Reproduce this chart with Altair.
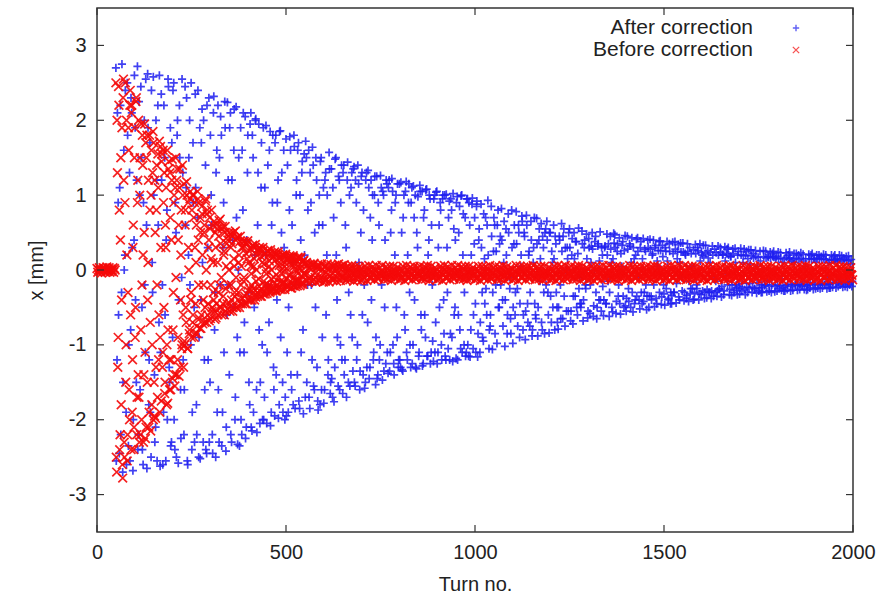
import altair as alt
import pandas as pd

# ---------------- data ----------------
# After correction, read in two interleaved sets of turns
blue_turns_a = list(range(50, 2000, 3))
blue_x_a = [
    2.7, -1.2, 0.9, -2.45, 2.2, -0.3, -2.7, 1.6, 0.2, -1.9,
    2.5, -2.35, 1.3, -0.8, 2.1, -2.68, 0.4, 1.9, -1.5, 2.72,
    -2.2, 1.0, 2.45, -0.5, -2.6, 2.0, -1.1, 0.6, 2.62, -1.8,
    1.7, -2.5, 0.1, 2.58, -1.4, -2.1, 1.2, 2.2, -0.7, -2.62,
    2.35, -0.2, -1.9, 1.5, -2.55, 0.8, 2.55, -1.3, 1.9, -2.3,
    -0.9, 2.5, -2.4, 0.5, 1.8, -2.58, 2.2, -1.6, -0.1, 1.3,
    -2.2, 2.45, 1.1, -2.55, 0.2, 2.0, -1.0, -2.4, 1.7, -0.5,
    2.35, -1.8, 0.7, -2.5, 1.9, -0.4, 2.15, -2.3, -1.2, 1.4,
    -2.45, 0.3, 2.3, -1.5, 1.0, -2.2, 2.1, -0.8, -2.5, 1.6,
    2.2, -2.3, -0.2, 1.8, -1.9, 0.9, 2.25, -2.42, -0.6, 1.2,
    -1.4, 2.1, -2.3, 0.4, 1.6, -2.0, 2.18, -0.9, 0.0, -2.35,
    1.9, -2.2, 0.8, -1.1, 2.05, -2.1, 1.3, -0.3, -1.8, 2.1,
    -2.15, 1.5, -0.5, 2.0, -1.6, 0.6, 1.95, -2.05, 1.1, -1.0,
    1.9, -1.7, 0.2, -2.05, 1.4, -0.7, 1.85, -1.9, 0.9, -1.3,
    -1.95, 1.8, -0.4, 1.2, -1.8, 1.86, 0.5, -1.5, 1.6, -2.0,
    1.75, -1.1, -1.9, 0.8, 1.6, -1.6, 0.1, 1.8, -1.85, 1.0,
    -1.4, 1.7, -1.85, 0.4, 1.3, -0.8, 1.55, -1.7, 1.5, -0.2,
    1.6, -1.85, 0.9, -1.2, 1.4, -1.6, -0.5, 1.2, -1.75, 0.6,
    -1.8, 1.5, -0.9, 1.1, -1.6, 1.3, 0.2, -1.4, 1.57, -1.65,
    1.35, -1.7, 0.7, -1.3, 1.5, -0.4, -1.55, 1.2, -1.0, 1.4,
    -1.65, 1.4, -1.2, 0.3, 1.2, -1.5, 1.0, -0.6, 1.3, -1.35,
    1.38, -1.55, 0.9, -1.0, 1.15, -1.6, 0.5, 1.3, -1.4, -0.2,
    -1.5, 1.3, -0.7, 1.1, -1.3, 1.2, 0.4, -1.2, 1.0, -1.53,
    1.25, -1.4, 0.6, -1.0, 1.1, -1.47, 1.0, -0.5, -1.25, 1.15,
    -1.38, 1.2, -1.1, 0.8, 1.05, -1.25, 0.2, 1.0, -0.9, -1.3,
    1.15, -1.3, 0.5, -1.35, 1.0, -0.8, 1.18, -1.2, 0.9, -0.3,
    -1.3, 1.1, -1.0, 0.7, 1.0, -1.32, 0.3, -1.15, 1.13, -0.6,
    1.05, -1.25, 0.8, -0.9, 1.08, -1.15, 0.4, 0.95, -1.1, -0.2,
    -1.22, 1.0, -0.7, 1.05, -1.1, 0.6, 0.9, -1.0, 0.95, -0.4,
    1.0, -1.2, 0.3, -1.05, 0.92, -0.85, 0.8, -1.22, 0.55, -0.5,
    -1.18, 0.98, -0.6, 0.85, -1.05, 1.0, 0.2, -1.0, 0.7, -1.1,
    0.95, -1.15, 0.6, -0.8, 0.88, -1.05, 0.35, -0.45, 0.85, -1.16,
    0.4, -1.1, 0.88, -0.3, -0.95, 0.15, 0.7, -0.6, 0.93, -1.05,
    -0.75, 0.85, -1.06, 0.25, 0.6, -0.2, -0.98, 0.8, -0.5, 0.45,
    0.82, -0.4, 0.1, -1.02, 0.55, -0.85, 0.75, -0.1, -0.65, 0.8,
    -0.98, 0.35, -0.6, 0.78, -0.25, 0.6, -0.9, 0.05, 0.72, -0.8,
    0.5, -0.93, 0.73, -0.45, 0.2, -0.75, 0.65, -0.88, 0.1, 0.7,
    -0.6, 0.69, -0.88, 0.4, -0.15, 0.62, -0.8, 0.3, -0.85, 0.55,
    0.65, -0.3, -0.84, 0.5, -0.7, 0.1, 0.6, -0.8, 0.35, -0.5,
    -0.79, 0.45, -0.2, 0.62, -0.65, 0.55, -0.75, 0.0, 0.3, -0.55,
    0.55, -0.68, 0.2, -0.72, 0.5, -0.35, 0.38, -0.6, 0.56, -0.1,
    -0.5, 0.52, -0.68, 0.3, -0.2, 0.48, -0.64, 0.42, -0.58, 0.1,
    0.5, -0.62, 0.0, 0.45, -0.65, 0.32, -0.4, 0.51, -0.55, 0.2,
    -0.61, 0.3, -0.45, 0.48, -0.15, -0.62, 0.45, 0.1, -0.56, 0.49,
    0.47, -0.58, 0.25, -0.35, 0.43, -0.59, 0.05, 0.38, -0.5, 0.46,
    -0.55, 0.45, -0.25, 0.35, -0.5, 0.43, -0.56, 0.15, -0.4, 0.41,
    0.43, -0.1, -0.52, 0.38, -0.45, 0.42, -0.3, 0.25, -0.53, 0.4,
    -0.5, 0.41, -0.35, 0.2, 0.4, -0.49, 0.33, -0.45, 0.05, 0.38,
    0.39, -0.46, 0.33, -0.2, -0.47, 0.25, 0.38, -0.4, 0.35, -0.45,
    -0.45, 0.37, -0.3, 0.38, -0.44, 0.15, 0.34, -0.4, 0.36, -0.1,
    0.36, -0.41, 0.22, -0.38, 0.35, -0.42, 0.3, -0.25, 0.05, -0.4,
    -0.39, 0.34, -0.2, 0.3, -0.4, 0.35, -0.33, 0.2, 0.33, -0.38,
    0.33, -0.37, 0.26, -0.3, 0.1, -0.38, 0.32, -0.35, 0.28, -0.15,
    -0.35, 0.32, -0.25, 0.3, -0.36, 0.2, -0.33, 0.31, -0.05, 0.28,
    0.3, -0.33, 0.18, -0.34, 0.28, -0.3, 0.29, -0.2, -0.33, 0.25,
    -0.32, 0.29, -0.28, 0.1, 0.28, -0.33, 0.25, -0.3, 0.27, -0.18,
    0.27, -0.3, 0.22, -0.25, 0.26, -0.31, 0.05, -0.28, 0.25, -0.3,
    -0.3, 0.26, -0.2, 0.25, -0.29, 0.18, -0.28, 0.24, -0.3, 0.22,
    0.25, -0.29, 0.15, -0.28, 0.24, -0.25, 0.23, -0.27, 0.1, -0.28,
    -0.28, 0.23, -0.26, 0.2, 0.24, -0.28, 0.12, -0.27, 0.22, -0.2,
    0.22, -0.27, 0.2, -0.26, 0.23, -0.22, 0.21, -0.26, 0.05, -0.27,
    -0.26, 0.21, -0.24, 0.2, 0.22, -0.26, 0.15, -0.25, 0.2, -0.24,
    0.2, -0.25, 0.18, -0.24, 0.21, -0.2, 0.2, -0.25, 0.1, -0.24,
    -0.24, 0.2, -0.23, 0.18, 0.2, -0.24, 0.15, -0.22, 0.2, -0.2,
    0.19, -0.23, 0.16, -0.22, 0.18, -0.23, 0.19, -0.2, 0.08, -0.22,
]

blue_turns_b = list(range(51, 2000, 3))
blue_x_b = [
    -2.55, 2.1, -0.6, 1.1, -2.2, 2.75, -1.5, 0.0, 2.4, -2.6,
    1.8, -1.0, -2.55, 2.3, 0.3, -2.0, 2.6, -0.4, 1.2, -2.4,
    2.25, -1.6, 1.5, -2.4, 0.9, -0.2, 2.55, -2.65, 1.9, -1.2,
    -1.9, 2.4, -0.3, 1.0, -2.3, 2.0, -2.55, 0.6, 2.6, -1.1,
    1.2, -2.6, 2.2, -0.6, 0.4, -2.0, 2.45, -1.5, -2.35, 1.7,
    2.4, -2.0, 0.9, -2.5, 2.0, -0.4, 1.5, -2.25, 2.55, -1.2,
    -1.6, 0.6, 2.3, -2.6, 1.5, -0.2, 2.5, -1.9, 0.9, -2.3,
    1.1, -2.2, 2.4, -0.9, -2.52, 1.7, 0.1, 2.0, -1.6, -2.4,
    2.2, -1.2, -2.3, 1.8, 0.6, -2.45, 2.32, -0.3, 1.3, -1.9,
    -1.6, 1.5, 2.05, -2.35, 0.3, -1.1, 1.9, -2.1, 2.24, -0.2,
    1.9, -2.2, 1.2, -0.5, 2.15, -1.7, 0.7, -2.33, 1.5, -1.1,
    -2.0, 1.6, 2.1, -0.7, -2.25, 0.4, 1.8, -1.5, 1.95, -2.1,
    1.8, -1.9, 0.2, 2.02, -2.17, 1.3, -0.8, -1.5, 1.7, -2.0,
    -2.0, 1.1, 1.93, -1.1, -0.2, 1.6, -2.08, 0.6, 1.8, -1.6,
    1.7, -1.4, 0.9, -1.98, 1.85, -0.9, 1.3, -1.9, 0.3, -1.7,
    -1.95, 1.4, -0.5, 1.78, -1.4, 0.6, -1.8, 1.65, -0.2, 1.2,
    1.6, -1.75, 1.0, -1.1, 1.45, -1.92, 0.2, 1.72, -1.5, 0.8,
    -1.7, 1.3, -0.2, 1.64, -1.55, 0.5, 1.5, -1.3, -1.87, 1.0,
    1.45, -1.6, 0.6, -1.78, 1.2, -0.6, 1.0, -1.2, 1.35, -1.5,
    -1.45, 1.1, -1.76, 1.48, 0.2, -0.9, 1.25, -1.6, 0.9, -1.2,
    1.3, -1.4, 0.6, -1.7, 1.44, -0.3, -1.55, 1.1, -0.9, 1.35,
    -1.5, 1.2, -1.2, 1.4, 0.1, -1.35, 1.25, -0.6, 0.8, -1.58,
    1.2, -1.3, 1.33, -1.45, 0.7, -0.4, 1.0, -1.1, 1.25, -0.9,
    -1.45, 0.9, -1.2, 1.26, -0.2, 1.05, -1.35, 0.4, 1.2, -1.1,
    1.1, -1.35, 0.5, 1.22, -1.0, -1.4, 0.9, -0.5, 1.15, -1.2,
    -1.2, 1.17, -1.33, 0.7, -0.6, 1.05, -1.1, 0.2, 1.15, -1.0,
    0.9, -1.25, 1.12, -0.4, -1.3, 0.5, 0.98, -1.1, 1.05, -0.8,
    -1.28, 0.7, -0.6, 1.07, -1.15, 0.2, 1.0, -1.25, 0.6, -0.95,
    0.95, -1.1, 1.04, -1.25, 0.3, -0.5, 0.8, -1.2, 1.0, -0.85,
    -1.15, 1.01, -0.3, 0.7, -1.2, 0.95, -0.9, 1.02, -0.6, 0.4,
    0.9, -1.2, 0.5, -0.8, 0.99, -1.1, 0.75, -0.3, -1.15, 0.95,
    -1.0, 0.9, -1.16, 0.2, 0.96, -0.6, 0.7, -1.1, 0.92, -0.85,
    0.55, -0.7, 0.3, -0.9, 0.75, -0.45, -0.25, 0.6, 0.2, -0.8,
    -0.6, 0.45, -0.3, 0.7, -0.85, 0.25, 0.6, -0.5, 0.35, -0.2,
    0.4, -0.75, 0.65, -0.4, 0.2, -0.6, 0.5, -0.25, -0.85, 0.3,
    -0.5, 0.6, -0.3, 0.35, -0.75, 0.5, -0.45, 0.2, 0.65, -0.6,
    0.45, -0.55, 0.6, -0.7, 0.25, -0.3, 0.4, -0.8, 0.3, -0.45,
    -0.65, 0.35, -0.5, 0.55, 0.15, -0.7, 0.45, -0.3, 0.5, -0.2,
    0.4, -0.6, 0.5, -0.35, 0.25, -0.5, 0.15, 0.45, -0.3, -0.7,
    -0.5, 0.4, -0.65, 0.25, 0.45, -0.35, 0.3, -0.55, 0.15, 0.5,
    0.3, -0.55, 0.42, -0.35, 0.15, 0.38, -0.5, 0.22, -0.25, -0.45,
    -0.45, 0.35, -0.4, 0.4, -0.25, 0.15, -0.55, 0.3, -0.2, 0.32,
    0.28, -0.48, 0.38, -0.3, -0.5, 0.35, 0.12, -0.4, 0.3, -0.22,
    -0.4, 0.32, -0.45, 0.2, 0.35, -0.3, 0.28, -0.5, 0.15, 0.36,
    0.3, -0.42, 0.35, -0.2, -0.45, 0.22, 0.33, -0.35, 0.26, -0.48,
    -0.38, 0.28, -0.42, 0.32, 0.1, -0.3, 0.3, -0.45, 0.2, -0.35,
    0.25, -0.4, 0.3, -0.3, 0.15, -0.42, 0.28, -0.2, -0.35, 0.3,
    -0.35, 0.28, -0.4, 0.22, -0.2, 0.3, -0.38, 0.12, 0.26, -0.3,
    0.26, -0.36, 0.18, -0.32, 0.3, -0.25, 0.12, -0.38, 0.25, -0.3,
    -0.34, 0.22, -0.3, 0.28, -0.18, 0.25, -0.36, 0.1, 0.24, -0.28,
    0.24, -0.3, 0.2, -0.34, 0.25, -0.15, -0.32, 0.22, -0.25, 0.27,
    -0.3, 0.22, -0.25, 0.26, -0.32, 0.12, 0.24, -0.28, 0.18, -0.3,
    0.22, -0.26, 0.16, -0.3, 0.24, -0.28, 0.2, -0.12, -0.3, 0.23,
    -0.28, 0.2, -0.26, 0.24, -0.22, 0.21, -0.28, 0.12, 0.22, -0.2,
    0.2, -0.26, 0.18, -0.2, 0.22, -0.27, 0.1, -0.24, 0.2, -0.22,
    -0.25, 0.2, -0.18, 0.19, -0.26, 0.2, -0.23, 0.15, -0.24, 0.08,
    0.19, -0.23, 0.16, -0.25, 0.18, -0.17, 0.17, -0.24, 0.12, -0.2,
    -0.23, 0.18, -0.21, 0.16, -0.14, 0.17, -0.22, 0.16, -0.2, 0.18,
    0.17, -0.22, 0.18, -0.2, 0.15, -0.21, 0.16, -0.12, -0.23, 0.15,
    -0.21, 0.17, -0.2, 0.14, 0.16, -0.19, -0.22, 0.15, 0.1, -0.2,
    0.16, -0.2, 0.14, -0.19, 0.15, -0.2, 0.12, -0.16, 0.15, -0.21,
    -0.19, 0.15, -0.2, 0.14, -0.17, 0.15, -0.19, 0.1, 0.16, -0.2,
    0.15, -0.19, 0.14, -0.18, 0.15, -0.19, 0.14, -0.12, -0.19, 0.13,
    -0.18, 0.14, -0.17, 0.13, 0.14, -0.18, 0.11, -0.16, 0.14, -0.14,
    0.13, -0.17, 0.14, -0.16, 0.12, -0.17, 0.13, -0.17, 0.14, -0.15,
]

# Before correction
red_turns = (list(range(0, 50, 2)) + list(range(50, 550, 2)) + list(range(51, 550, 2))
             + list(range(550, 2000, 5)) + list(range(552, 2000, 5))
             + list(range(554, 2000, 5)))
red_x = [
    # turns 0..48 (before the kick)
    0.02, -0.03, 0.0, 0.03, -0.02, 0.01, -0.04, 0.0, 0.03, -0.01,
    0.02, -0.03, 0.0, 0.04, -0.02, 0.0, 0.03, -0.03, 0.01, -0.02,
    0.0, 0.03, -0.03, 0.02, 0.0,
    # even turns 50..548
    2.5, -2.7, 1.3, -0.9, 2.2, -2.4, 0.4, -1.8, 1.9, -2.78,
    2.55, -2.3, 0.9, -1.5, 2.0, -2.55, -0.3, 1.6, -2.0, 2.4,
    -2.4, 2.2, -1.2, 0.6, -2.1, 1.9, -0.5, 2.3, -1.7, 1.2,
    2.0, -2.3, 1.5, -0.8, -2.0, 1.8, 0.2, -1.4, 1.95, -2.25,
    -2.1, 1.8, -0.4, 1.2, -1.9, 0.8, -2.15, 1.6, -1.0, 1.85,
    1.7, -1.95, 0.5, -1.3, 1.4, -1.7, 1.1, -0.6, -1.9, 1.65,
    -1.75, 1.55, -1.1, 0.9, 1.3, -1.5, 0.3, -1.8, 1.6, -0.8,
    1.45, -1.6, 0.7, -1.2, 1.2, -1.45, -0.3, 1.0, -1.55, 1.5,
    -1.4, 1.35, -0.9, 0.6, 1.1, -1.3, 0.2, -1.05, 1.4, -0.6,
    1.15, -1.0, 0.8, -0.7, 1.0, -1.05, 0.3, -0.85, 0.95, -0.4,
    -0.9, 1.0, -0.6, 0.7, 0.9, -0.85, 0.1, -0.75, 1.05, 0.4,
    0.9, -0.78, 0.5, -0.6, 0.75, -0.72, -0.2, 0.6, -0.5, 0.95,
    -0.7, 0.8, -0.45, 0.4, 0.7, -0.65, 0.15, -0.55, 0.6, -0.3,
    0.65, -0.66, 0.3, -0.45, 0.55, -0.6, 0.45, -0.2, 0.68, -0.5,
    -0.6, 0.58, -0.35, 0.25, 0.5, -0.55, 0.05, -0.45, 0.4, -0.2,
    0.5, -0.55, 0.3, -0.4, 0.45, -0.5, 0.15, -0.3, 0.52, -0.1,
    -0.5, 0.44, -0.3, 0.2, 0.38, -0.45, 0.05, -0.38, 0.3, -0.15,
    0.38, -0.45, 0.22, -0.32, 0.35, -0.4, 0.1, -0.25, 0.28, -0.05,
    -0.4, 0.33, -0.25, 0.15, 0.3, -0.36, 0.0, -0.3, 0.25, -0.12,
    0.3, -0.35, 0.18, -0.26, 0.25, -0.32, 0.08, -0.2, 0.22, -0.05,
    -0.31, 0.26, -0.2, 0.12, 0.22, -0.28, 0.0, -0.24, 0.18, -0.1,
    0.24, -0.28, 0.14, -0.2, 0.2, -0.25, 0.06, -0.16, 0.18, -0.04,
    -0.26, 0.2, -0.16, 0.1, 0.18, -0.22, 0.02, -0.2, 0.15, -0.08,
    0.19, -0.24, 0.12, -0.17, 0.16, -0.21, 0.05, -0.14, 0.14, -0.03,
    -0.21, 0.17, -0.13, 0.08, 0.15, -0.19, 0.0, -0.16, 0.12, -0.06,
    # odd turns 51..549
    -2.5, 2.0, -1.3, 2.45, 0.8, -2.2, 1.5, -0.4, -2.6, 2.3,
    1.2, -2.5, 2.5, -1.0, 0.2, -2.2, 1.9, -1.6, 2.2, -0.6,
    2.1, -1.9, 0.3, -2.4, 1.5, -0.9, 2.25, -2.2, 0.9, -1.4,
    -1.7, 1.0, -2.2, 1.95, -0.2, 1.4, -2.3, 0.5, -1.1, 1.7,
    1.5, -1.5, 0.1, -2.1, 1.8, -0.7, 1.0, -1.8, 1.3, -2.0,
    -1.5, 1.2, -1.98, 0.8, -0.2, 1.55, -1.2, 1.72, -0.9, 0.3,
    1.45, -1.3, 1.6, -0.5, -1.65, 0.6, 1.1, -1.0, -1.78, 1.35,
    -1.2, 1.3, -1.6, 0.4, 1.48, -0.8, 0.9, -1.4, 1.1, -0.1,
    1.2, -1.2, 0.4, -1.42, 1.35, -0.4, 0.8, -1.0, 1.0, -1.3,
    -0.95, 0.6, -0.5, 1.18, -1.05, 0.9, 0.0, -0.8, 1.05, -0.3,
    0.8, -0.7, 1.0, -0.9, 0.3, -0.45, 0.6, -0.85, 0.95, -0.2,
    -0.65, 0.7, -0.78, 0.85, 0.2, -0.4, 0.5, -0.7, 0.92, 0.0,
    0.75, -0.6, 0.3, -0.68, 0.55, -0.2, 0.8, -0.5, 0.1, -0.4,
    -0.55, 0.5, -0.64, 0.6, 0.1, -0.3, 0.66, -0.5, 0.35, -0.1,
    0.55, -0.45, 0.2, -0.6, 0.58, -0.25, 0.35, -0.52, 0.45, 0.0,
    -0.45, 0.48, -0.2, 0.35, -0.55, 0.5, 0.05, -0.35, 0.4, -0.5,
    0.42, -0.4, 0.1, -0.5, 0.45, -0.2, 0.3, -0.45, 0.38, -0.1,
    -0.35, 0.36, -0.45, 0.15, 0.39, -0.28, 0.25, -0.4, 0.05, -0.2,
    0.32, -0.3, 0.05, -0.4, 0.34, -0.15, 0.2, -0.35, 0.28, -0.22,
    -0.28, 0.28, -0.35, 0.1, 0.3, -0.15, 0.2, -0.32, 0.0, -0.25,
    0.25, -0.22, 0.05, -0.3, 0.27, -0.12, 0.16, -0.28, 0.22, -0.18,
    -0.24, 0.22, -0.28, 0.08, 0.24, -0.1, 0.15, -0.26, 0.0, -0.18,
    0.2, -0.18, 0.04, -0.26, 0.21, -0.12, 0.12, -0.22, 0.17, -0.06,
    -0.2, 0.17, -0.24, 0.06, 0.19, -0.1, 0.1, -0.22, 0.0, -0.15,
    0.16, -0.15, 0.02, -0.21, 0.17, -0.08, 0.1, -0.19, 0.13, -0.04,
    # turns 550..1995 (every 5th)
    0.08, -0.14, 0.03, -0.09, 0.06, -0.13, -0.03, 0.05, -0.11, 0.00,
    -0.12, 0.05, -0.06, 0.02, -0.11, 0.04, -0.02, -0.10, 0.03, -0.07,
    0.03, -0.11, -0.02, -0.08, 0.02, -0.10, -0.05, 0.01, -0.09, -0.03,
    0.01, -0.09, -0.03, -0.07, 0.00, -0.10, -0.05, -0.01, -0.08, -0.04,
    -0.08, -0.02, -0.10, -0.05, 0.02, -0.07, -0.03, -0.09, -0.01, -0.06,
    -0.04, -0.10, 0.00, -0.06, -0.09, -0.02, -0.07, 0.01, -0.10, -0.05,
    -0.02, -0.07, -0.10, 0.01, -0.05, -0.09, -0.01, -0.06, -0.03, -0.08,
    0.00, -0.09, -0.04, -0.07, 0.01, -0.10, -0.05, -0.02, -0.08, -0.03,
    -0.07, -0.02, -0.10, -0.04, 0.02, -0.08, -0.03, -0.09, 0.00, -0.06,
    -0.05, -0.10, -0.01, -0.06, -0.09, -0.02, -0.08, 0.01, -0.10, -0.04,
    -0.03, -0.08, -0.10, 0.00, -0.05, -0.09, -0.02, -0.06, -0.01, -0.07,
    0.01, -0.10, -0.03, -0.07, 0.00, -0.09, -0.05, -0.01, -0.08, -0.04,
    -0.08, -0.01, -0.10, -0.05, 0.02, -0.07, -0.04, -0.09, -0.02, -0.06,
    -0.04, -0.09, 0.00, -0.06, -0.10, -0.02, -0.07, 0.01, -0.09, -0.05,
    -0.02, -0.07, -0.10, 0.01, -0.05, -0.08, -0.01, -0.06, -0.03, -0.09,
    0.01, -0.09, -0.03, -0.08, 0.00, -0.10, -0.05, -0.01, -0.07, -0.04,
    -0.07, -0.02, -0.10, -0.05, 0.02, -0.08, -0.03, -0.09, -0.01, -0.06,
    -0.05, -0.10, 0.00, -0.06, -0.09, -0.02, -0.07, 0.01, -0.10, -0.04,
    -0.02, -0.08, -0.10, 0.01, -0.04, -0.09, -0.01, -0.06, -0.03, -0.07,
    0.00, -0.09, -0.03, -0.07, 0.01, -0.10, -0.05, -0.02, -0.08, -0.04,
    -0.08, -0.02, -0.09, -0.05, 0.02, -0.07, -0.03, -0.10, -0.01, -0.06,
    -0.04, -0.10, 0.00, -0.06, -0.09, -0.01, -0.07, 0.01, -0.10, -0.05,
    -0.03, -0.07, -0.10, 0.01, -0.05, -0.09, -0.02, -0.06, -0.01, -0.08,
    0.01, -0.09, -0.04, -0.07, 0.00, -0.10, -0.05, -0.01, -0.08, -0.03,
    -0.07, -0.02, -0.10, -0.04, 0.02, -0.08, -0.03, -0.09, -0.01, -0.06,
    -0.05, -0.09, 0.00, -0.06, -0.10, -0.02, -0.07, 0.01, -0.09, -0.04,
    -0.02, -0.07, -0.10, 0.01, -0.05, -0.08, -0.01, -0.06, -0.03, -0.09,
    0.00, -0.10, -0.03, -0.07, 0.01, -0.09, -0.05, -0.02, -0.08, -0.04,
    -0.08, -0.01, -0.10, -0.05, 0.02, -0.07, -0.04, -0.09, -0.02, -0.06,
    # turns 552..1997 (every 5th)
    -0.07, 0.06, -0.12, 0.01, 0.07, -0.10, 0.03, -0.14, 0.04, -0.04,
    0.04, -0.12, 0.00, -0.08, 0.05, -0.11, 0.02, -0.05, 0.03, -0.10,
    -0.09, 0.02, -0.11, 0.00, -0.04, 0.02, -0.10, -0.01, -0.07, 0.01,
    -0.04, -0.10, 0.00, -0.06, -0.09, -0.02, -0.07, 0.01, -0.10, -0.05,
    -0.02, -0.07, -0.10, 0.01, -0.05, -0.09, -0.01, -0.06, -0.03, -0.08,
    0.01, -0.09, -0.03, -0.07, 0.00, -0.10, -0.05, -0.01, -0.08, -0.04,
    -0.08, -0.02, -0.10, -0.05, 0.02, -0.07, -0.03, -0.09, -0.01, -0.06,
    -0.05, -0.09, 0.01, -0.06, -0.10, -0.02, -0.08, 0.00, -0.09, -0.04,
    -0.03, -0.07, -0.09, 0.01, -0.06, -0.10, -0.01, -0.05, -0.02, -0.08,
    0.00, -0.10, -0.04, -0.07, 0.02, -0.09, -0.05, -0.02, -0.08, -0.03,
    -0.07, -0.01, -0.10, -0.04, 0.01, -0.08, -0.03, -0.10, -0.02, -0.06,
    -0.04, -0.09, 0.00, -0.05, -0.10, -0.01, -0.07, 0.02, -0.09, -0.05,
    -0.02, -0.08, -0.10, 0.00, -0.04, -0.09, -0.02, -0.06, -0.03, -0.07,
    0.01, -0.10, -0.03, -0.08, 0.01, -0.09, -0.05, -0.01, -0.07, -0.04,
    -0.08, -0.02, -0.09, -0.05, 0.02, -0.07, -0.04, -0.10, -0.01, -0.06,
    -0.05, -0.10, 0.01, -0.06, -0.09, -0.02, -0.07, 0.00, -0.10, -0.04,
    -0.03, -0.07, -0.10, 0.01, -0.05, -0.09, -0.01, -0.06, -0.02, -0.08,
    0.00, -0.09, -0.04, -0.07, 0.01, -0.10, -0.05, -0.01, -0.08, -0.03,
    -0.07, -0.02, -0.10, -0.05, 0.02, -0.08, -0.03, -0.09, -0.01, -0.06,
    -0.04, -0.10, 0.00, -0.06, -0.09, -0.01, -0.07, 0.01, -0.10, -0.05,
    -0.02, -0.08, -0.10, 0.01, -0.05, -0.09, -0.02, -0.06, -0.03, -0.07,
    0.01, -0.09, -0.03, -0.07, 0.00, -0.10, -0.04, -0.02, -0.08, -0.04,
    -0.08, -0.01, -0.10, -0.05, 0.02, -0.07, -0.03, -0.09, -0.01, -0.06,
    -0.05, -0.09, 0.00, -0.06, -0.10, -0.02, -0.08, 0.01, -0.09, -0.04,
    -0.02, -0.07, -0.10, 0.00, -0.05, -0.08, -0.01, -0.06, -0.03, -0.09,
    0.01, -0.10, -0.03, -0.07, 0.01, -0.09, -0.05, -0.02, -0.08, -0.04,
    -0.07, -0.02, -0.09, -0.04, 0.02, -0.08, -0.04, -0.10, -0.01, -0.06,
    -0.04, -0.10, 0.01, -0.06, -0.09, -0.02, -0.07, 0.00, -0.10, -0.05,
    -0.03, -0.08, -0.10, 0.01, -0.05, -0.09, -0.01, -0.06, -0.02, -0.07,
    # turns 554..1999 (every 5th), the band's outer edges
    0.10, -0.17, 0.08, -0.15, 0.09, -0.16, 0.07, -0.14, 0.08, -0.16,
    -0.15, 0.08, -0.16, 0.07, -0.14, 0.06, -0.15, 0.08, -0.14, 0.06,
    0.07, -0.14, 0.05, -0.13, 0.06, -0.15, 0.05, -0.13, 0.04, -0.14,
    -0.13, 0.05, -0.14, 0.06, -0.12, 0.04, -0.13, 0.06, -0.12, 0.03,
    0.06, -0.13, 0.04, -0.12, 0.05, -0.14, 0.05, -0.11, 0.03, -0.13,
    -0.12, 0.05, -0.14, 0.06, -0.11, 0.04, -0.13, 0.05, -0.12, 0.03,
    0.05, -0.13, 0.04, -0.12, 0.06, -0.14, 0.05, -0.11, 0.03, -0.13,
    -0.12, 0.05, -0.14, 0.06, -0.11, 0.04, -0.13, 0.06, -0.12, 0.03,
    0.06, -0.13, 0.04, -0.12, 0.05, -0.14, 0.05, -0.11, 0.03, -0.13,
    -0.12, 0.05, -0.14, 0.05, -0.11, 0.04, -0.13, 0.06, -0.12, 0.03,
    0.05, -0.13, 0.04, -0.12, 0.06, -0.14, 0.04, -0.11, 0.03, -0.13,
    -0.12, 0.06, -0.14, 0.05, -0.11, 0.04, -0.13, 0.05, -0.12, 0.03,
    0.06, -0.13, 0.04, -0.12, 0.05, -0.14, 0.05, -0.11, 0.03, -0.13,
    -0.12, 0.05, -0.14, 0.06, -0.11, 0.04, -0.13, 0.06, -0.12, 0.03,
    0.05, -0.13, 0.04, -0.12, 0.06, -0.14, 0.05, -0.11, 0.03, -0.13,
    -0.12, 0.05, -0.14, 0.05, -0.11, 0.04, -0.13, 0.06, -0.12, 0.03,
    0.06, -0.13, 0.04, -0.12, 0.05, -0.14, 0.04, -0.11, 0.03, -0.13,
    -0.12, 0.06, -0.14, 0.05, -0.11, 0.04, -0.13, 0.05, -0.12, 0.03,
    0.05, -0.13, 0.04, -0.12, 0.06, -0.14, 0.05, -0.11, 0.03, -0.13,
    -0.12, 0.05, -0.14, 0.06, -0.11, 0.04, -0.13, 0.06, -0.12, 0.03,
    0.06, -0.13, 0.04, -0.12, 0.05, -0.14, 0.05, -0.11, 0.03, -0.13,
    -0.12, 0.05, -0.14, 0.05, -0.11, 0.04, -0.13, 0.06, -0.12, 0.03,
    0.05, -0.13, 0.04, -0.12, 0.06, -0.14, 0.04, -0.11, 0.03, -0.13,
    -0.12, 0.06, -0.14, 0.05, -0.11, 0.04, -0.13, 0.05, -0.12, 0.03,
    0.06, -0.13, 0.04, -0.12, 0.05, -0.14, 0.05, -0.11, 0.03, -0.13,
    -0.12, 0.05, -0.14, 0.06, -0.11, 0.04, -0.13, 0.06, -0.12, 0.03,
    0.05, -0.13, 0.04, -0.12, 0.06, -0.14, 0.05, -0.11, 0.03, -0.13,
    -0.12, 0.05, -0.14, 0.05, -0.11, 0.04, -0.13, 0.06, -0.12, 0.03,
    0.06, -0.13, 0.04, -0.12, 0.05, -0.14, 0.04, -0.11, 0.03, -0.13,
]

x_tick_values = [0, 500, 1000, 1500, 2000]
y_tick_values = [-3, -2, -1, 0, 1, 2, 3]
series_labels = ["After correction", "Before correction"]

# ---------------- styling ----------------
W, H = 756, 524
FONT = "Liberation Sans"
BLUE = "#1f1ff0"
RED = "#f50a0a"
PLUS = "M-1,0L1,0M0,-1L0,1"
CROSS = "M-1,-1L1,1M-1,1L1,-1"
TICK = 7
BLUE_SIZE, RED_SIZE = 66, 76

blue_df = pd.DataFrame({"turn": blue_turns_a + blue_turns_b, "x": blue_x_a + blue_x_b})
red_df = pd.DataFrame({"turn": red_turns, "x": red_x})
xt_df = pd.DataFrame({"t": x_tick_values})
yt_df = pd.DataFrame({"v": y_tick_values})

xscale = alt.Scale(domain=[0, 2000], nice=False, zero=False)
yscale = alt.Scale(domain=[-3.5, 3.5], nice=False, zero=False)

xaxis = alt.Axis(values=x_tick_values, title="Turn no.", ticks=False, domain=False,
                 grid=False, labelPadding=10, titlePadding=12, labelFlush=False,
                 labelExpr="'' + datum.value")
yaxis = alt.Axis(values=y_tick_values, title="x [mm]", ticks=False, domain=False,
                 grid=False, labelPadding=11, titlePadding=22, labelFlush=False,
                 labelExpr="'' + datum.value")

blue = alt.Chart(blue_df).mark_point(
    shape=PLUS, size=BLUE_SIZE, filled=False, strokeWidth=1.7, color=BLUE, opacity=0.85
).encode(
    x=alt.X("turn:Q", scale=xscale, axis=xaxis),
    y=alt.Y("x:Q", scale=yscale, axis=yaxis),
)

red = alt.Chart(red_df).mark_point(
    shape=CROSS, size=RED_SIZE, filled=False, strokeWidth=1.7, color=RED, opacity=0.9
).encode(
    x=alt.X("turn:Q", scale=xscale),
    y=alt.Y("x:Q", scale=yscale),
)

# inward ticks on all four sides (mirrored)
tick_style = dict(color="#333333", strokeWidth=1.2)
yt_left = alt.Chart(yt_df).mark_rule(**tick_style).encode(
    y=alt.Y("v:Q", scale=yscale), x=alt.value(0), x2=alt.value(TICK))
yt_right = alt.Chart(yt_df).mark_rule(**tick_style).encode(
    y=alt.Y("v:Q", scale=yscale), x=alt.value(W - TICK), x2=alt.value(W))
xt_bottom = alt.Chart(xt_df).mark_rule(**tick_style).encode(
    x=alt.X("t:Q", scale=xscale), y=alt.value(H), y2=alt.value(H - TICK))
xt_top = alt.Chart(xt_df).mark_rule(**tick_style).encode(
    x=alt.X("t:Q", scale=xscale), y=alt.value(0), y2=alt.value(TICK))

# legend (label right-aligned, symbol to its right, as in gnuplot)
leg_font = dict(font=FONT, fontSize=21, color="#222222", align="right", baseline="middle")
leg_t1 = alt.Chart(pd.DataFrame({"s": [series_labels[0]]})).mark_text(**leg_font).encode(
    text="s:N", x=alt.value(656), y=alt.value(20))
leg_t2 = alt.Chart(pd.DataFrame({"s": [series_labels[1]]})).mark_text(**leg_font).encode(
    text="s:N", x=alt.value(656), y=alt.value(42))
leg_s1 = alt.Chart(pd.DataFrame({"s": [series_labels[0]]})).mark_point(
    shape=PLUS, size=40, filled=False, strokeWidth=1.4, color=BLUE
).encode(x=alt.value(699), y=alt.value(20))
leg_s2 = alt.Chart(pd.DataFrame({"s": [series_labels[1]]})).mark_point(
    shape=CROSS, size=40, filled=False, strokeWidth=1.3, color=RED
).encode(x=alt.value(699), y=alt.value(42))

chart = alt.layer(
    blue, red, yt_left, yt_right, xt_bottom, xt_top, leg_t1, leg_t2, leg_s1, leg_s2
).properties(
    width=W, height=H,
    autosize=alt.AutoSizeParams(type="none"),
    padding={"left": 97, "top": 8, "right": 39, "bottom": 66},
    background="white",
).configure_view(
    stroke="#333333", strokeWidth=1.5
).configure_axis(
    labelFont=FONT, labelFontSize=20, labelColor="#222222",
    titleFont=FONT, titleFontSize=20, titleFontWeight="normal", titleColor="#222222",
)

chart.save("out.html", embed_options={"renderer": "svg", "actions": False})
